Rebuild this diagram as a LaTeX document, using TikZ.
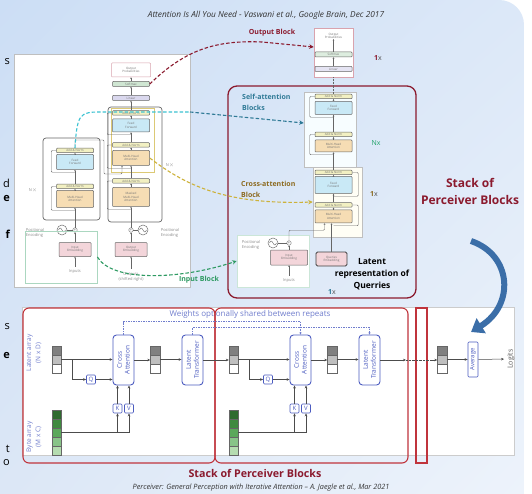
\documentclass[tikz,border=0pt]{standalone}
\usepackage{fontspec}
\setmainfont{Open Sans}
\usepackage{xcolor}
\usetikzlibrary{arrows.meta,shadings}

\definecolor{bgA}{HTML}{CCDEF5}
\definecolor{bgB}{HTML}{DCE8F8}
\definecolor{bgC}{HTML}{DCE7F6}
\definecolor{bgD}{HTML}{EDF3FB}
\definecolor{dred}{HTML}{8B1A2E}
\definecolor{pred}{HTML}{C0343C}
\definecolor{pblue}{HTML}{4C5CC0}
\definecolor{tealc}{HTML}{2F7A96}
\definecolor{cyanc}{HTML}{3CC3D2}
\definecolor{olivec}{HTML}{8C6A20}
\definecolor{yelc}{HTML}{CDB23A}
\definecolor{grn}{HTML}{2E9A62}
\definecolor{arrblue}{HTML}{3B6EA8}
\definecolor{obrd}{HTML}{D9A3AE}
\definecolor{anfill}{HTML}{F2F0C2}
\definecolor{fffill}{HTML}{C9E9F6}
\definecolor{mhfill}{HTML}{F6DDB4}
\definecolor{embfill}{HTML}{F3D5DA}
\definecolor{smfill}{HTML}{CFE6D2}
\definecolor{lnfill}{HTML}{DAD8EE}
\definecolor{byA}{HTML}{2F6B2F}
\definecolor{byB}{HTML}{3F8A3F}
\definecolor{byC}{HTML}{5AA85A}
\definecolor{byD}{HTML}{88C488}
\definecolor{byE}{HTML}{B5DCB0}

% latent array (3 cells) and byte array (5 cells)
\newcommand{\latarr}[2]{%
  \node[cellbox,minimum height=27pt] (#1) at (#2,359.5) {};
  \foreach \col [count=\n] in {black!50,black!25,white}
    \filldraw[fill=\col,draw=black!60,line width=0.4pt]
      ([yshift={-9*(\n-1)}]#1.north west) rectangle ([yshift={-9*\n}]#1.north east);}
\newcommand{\bytearr}[2]{%
  \node[cellbox,minimum height=45pt] (#1) at (#2,432.5) {};
  \foreach \col [count=\n] in {byA,byB,byC,byD,byE}
    \filldraw[fill=\col,draw=black!60,line width=0.4pt]
      ([yshift={-9*(\n-1)}]#1.north west) rectangle ([yshift={-9*\n}]#1.north east);}
\newcommand{\posenc}[3]{%
  \node[draw=black!55,circle,minimum size=10pt,inner sep=0pt,line width=0.5pt] (#1) at (#2,#3) {};
  \draw[black!60,line width=0.4pt] ([xshift=-3.5pt]#1.center) sin ([xshift=-1.75pt,yshift=2pt]#1.center)
    cos (#1.center) sin ([xshift=1.75pt,yshift=-2pt]#1.center) cos ([xshift=3.5pt]#1.center);}
\newcommand{\resid}[2]{\draw[wire] ([yshift=-2.5pt]#1.south) -| ([xshift=-5pt]#2.west) -- (#2.west);}
\newcommand{\residr}[2]{\draw[wire] ([yshift=-2.5pt]#1.south) -| ([xshift=6pt]#2.east) -- (#2.east);}

\begin{document}
\begin{tikzpicture}[x=1pt,y=-1pt,
  tb/.style={draw=black!60,rounded corners=0.8pt,inner sep=0pt,line width=0.5pt,
    font=\fontsize{3}{3.4}\selectfont,text=black!55,align=center,minimum width=37pt},
  an/.style={tb,fill=anfill,minimum height=4.5pt},
  ffw/.style={tb,fill=fffill,minimum height=13pt},
  mh/.style={tb,fill=mhfill,minimum height=15pt},
  emb/.style={tb,fill=embfill,minimum height=14pt,minimum width=32pt},
  panel/.style={draw=#1,fill=white,line width=0.6pt,inner sep=0pt},
  addc/.style={draw=black!55,circle,inner sep=0pt,minimum size=4.5pt,font=\fontsize{4}{4}\selectfont,text=black!60},
  tinytxt/.style={font=\fontsize{4}{4.6}\selectfont,text=black!45,align=center},
  wire/.style={draw=black!60,line width=0.45pt,rounded corners=1pt},
  warr/.style={wire,-{Stealth[length=1.6pt,width=1.6pt]}},
  lab/.style={font=\fontsize{7}{11}\selectfont\bfseries,align=left,inner sep=0pt},
  dcurve/.style={line width=1.1pt,dash pattern=on 3.5pt off 2pt,-{Stealth[length=4.5pt,width=4.5pt]}},
  redbox/.style={draw=pred,line width=1.1pt,minimum height=155pt,inner sep=0pt},
  pbox/.style={draw=pblue,line width=0.9pt,rounded corners=3.5pt,minimum width=21pt,minimum height=50pt,
    inner sep=0pt,font=\fontsize{6.5}{7.5}\selectfont,text=pblue},
  kq/.style={draw=pblue,line width=0.6pt,rounded corners=1pt,minimum size=9pt,inner sep=0pt,
    font=\fontsize{6}{6}\selectfont,text=pblue},
  cellbox/.style={minimum width=9pt,inner sep=0pt},
  arr/.style={-{Stealth[length=3pt,width=2.6pt]},draw=black!70,line width=0.5pt},
  wdash/.style={draw=pblue!80,line width=0.5pt,dash pattern=on 1.5pt off 1pt,-{Stealth[length=2.2pt,width=2.2pt]}}]

\useasboundingbox (0,0) rectangle (532,494);
\fill[white] (0,0) rectangle (532,494);
\shade[upper left=bgA,upper right=bgB,lower left=bgC,lower right=bgD]
  (0,0) -- (499,0) .. controls (513,0) and (524,11) .. (524,25) -- (524,494) -- (0,494) -- cycle;

\node[font=\fontsize{8.3}{9}\selectfont\itshape,text=black!80] (ttl) at (266,15)
  {Attention Is All You Need - Vaswani et al., Google Brain, Dec 2017};

% cut-off letters on the left edge
\foreach \ch/\yy/\w [count=\i] in {s/62/\mdseries,d/183/\mdseries,e/198/\bfseries,f/234/\bfseries,
    s/327/\mdseries,e/355/\bfseries,t/449/\mdseries,o/463/\mdseries}
  \node[anchor=east,inner sep=0pt,font=\fontsize{11}{12}\selectfont\w] (frag\i) at (10,\yy) {\ch};

% ---- transformer figure
\node[panel=black!25,minimum width=176pt,minimum height=233pt] (tfig) at (102,170.5) {};
\node[tb,draw=obrd,minimum width=39pt,minimum height=14pt] (outp) at (131,70) {Output\\Probabilities};
\node[tb,fill=smfill,minimum height=5pt] (smax) at (131,84) {Softmax};
\node[tb,fill=lnfill,minimum height=5pt] (lin) at (131,98) {Linear};
\node[draw=black!60,line width=0.7pt,rounded corners=3pt,minimum width=54pt,minimum height=115pt] (dec) at (135,164.5) {};
\node[draw=yelc!70,line width=0.5pt,minimum width=43pt,minimum height=64pt] (xhl) at (132.5,140) {};
\node[an] (dan1) at (131,113) {Add \& Norm};
\node[ffw] (dff) at (131,125.5) {Feed\\Forward};
\node[an] (dan2) at (131,145) {Add \& Norm};
\node[mh] (dmha) at (131,158) {Multi-Head\\Attention};
\node[an] (dan3) at (131,181) {Add \& Norm};
\node[mh,minimum height=19pt] (dmmha) at (131,197) {Masked\\Multi-Head\\Attention};
\posenc{dpos}{143}{230}
\node[addc] (dplus) at (131,230) {+};
\node[emb] (demb) at (131,249.5) {Output\\Embedding};
\node[tinytxt] (dinp) at (131,277) {Outputs\\(shifted right)};
\node[tinytxt,align=left] (dposl) at (170,233) {Positional\\Encoding};
\node[tinytxt] (dnx) at (170,165) {N$\times$};

\node[draw=black!60,line width=0.7pt,rounded corners=3pt,minimum width=57pt,minimum height=82pt] (enc) at (71.5,179) {};
\node[an] (ean1) at (75,150.5) {Add \& Norm};
\node[ffw,minimum height=15pt] (eff) at (75,162) {Feed\\Forward};
\node[an] (ean2) at (75,186.5) {Add \& Norm};
\node[mh,minimum height=17pt] (emha) at (75,199) {Multi-Head\\Attention};
\posenc{epos}{62}{230}
\node[addc] (eplus) at (75,230) {+};
\node[emb] (eemb) at (75,249.5) {Input\\Embedding};
\node[tinytxt] (einp) at (75,272) {Inputs};
\node[tinytxt,align=left] (eposl) at (35,233) {Positional\\Encoding};
\node[tinytxt] (enx) at (33,190) {N$\times$};
\node[draw=grn!40,line width=0.8pt,minimum width=72pt,minimum height=52pt] (inblk) at (61,257) {};

\foreach \a/\b in {eemb/eplus,eplus/emha,emha/ean2,ean2/eff,eff/ean1,demb/dplus,dplus/dmmha,
    dmmha/dan3,dan3/dmha,dmha/dan2,dan2/dff,dff/dan1,dan1/lin,lin/smax,smax/outp,einp/eemb,dinp/demb}
  \draw[warr] (\a) -- (\b);
\draw[wire] (epos) -- (eplus);
\draw[wire] (dpos) -- (dplus);
\resid{emha}{ean2} \resid{eff}{ean1} \resid{dmmha}{dan3} \resid{dmha}{dan2} \resid{dff}{dan1}
\draw[warr] (ean1.north) -- ++(0,-8) -| (104,174) -| ([xshift=-9pt]dmha.south);

% ---- stack of perceiver blocks
\node[draw=dred,line width=1.3pt,rounded corners=9pt,minimum width=188pt,minimum height=212pt] (stack) at (322,192) {};

\node[panel=obrd,minimum width=39pt,minimum height=49pt] (obox) at (333.5,52.5) {};
\node[tb,draw=none] (oprob) at (333.5,36) {Output\\Probabilities};
\node[tb,fill=smfill!70,minimum height=5pt] (osmax) at (333.5,54.5) {Softmax};
\node[tb,fill=lnfill!70,minimum height=5pt] (olin) at (333.5,69) {Linear};
\draw[warr] (olin) -- (osmax);
\draw[warr] (osmax) -- (oprob);

\node[panel=black!25,fill=cyan!3,minimum width=52pt,minimum height=75pt] (satw) at (330,129.5) {};
\node[an] (san1) at (333.5,96.5) {Add \& Norm};
\node[ffw] (sff) at (333.5,108) {Feed\\Forward};
\node[an] (san2) at (333.5,134.5) {Add \& Norm};
\node[mh,minimum height=12pt] (smha) at (333.5,146) {Multi-Head\\Attention};
\node[panel=black!25,fill=yellow!4,minimum width=49pt,minimum height=70pt] (catw) at (337.5,202) {};
\node[an] (can1) at (333.5,172.5) {Add \& Norm};
\node[ffw,minimum height=17pt] (cff) at (333.5,185) {Feed\\Forward};
\node[an] (can2) at (333.5,205) {Add \& Norm};
\node[mh,minimum height=13pt] (cmha) at (333.5,216.5) {Multi-Head\\Attention};
\foreach \a/\b in {smha/san2,san2/sff,sff/san1,cmha/can2,can2/cff,cff/can1,can1/smha}
  \draw[warr] (\a) -- (\b);
\resid{smha}{san2} \resid{sff}{san1} \residr{cmha}{can2} \residr{cff}{can1}
\draw[wire,densely dotted] (obox.south) -- (san1.north);

\node[panel=grn!25,minimum width=72pt,minimum height=52pt] (ibox) at (273,261) {};
\node[tinytxt,align=left] (iposl) at (251,245) {Positional\\Encoding};
\posenc{ipos}{273}{243}
\node[addc] (iplus) at (289,243) {+};
\node[emb,minimum width=37pt,minimum height=15pt] (iemb) at (289,257.5) {Input\\Embedding};
\node[tinytxt] (iinp) at (289,281) {Inputs};
\draw[warr] (iinp) -- (iemb);
\draw[warr] (iemb) -- (iplus);
\draw[wire] (ipos) -- (iplus);
\draw[warr] (iplus.north) |- ([xshift=-9pt,yshift=-7pt]cmha.south) -- ([xshift=-9pt]cmha.south);
\node[tb,fill=embfill,draw=black!75,line width=0.9pt,minimum width=31pt,minimum height=14pt,rounded corners=1.5pt]
  (qemb) at (331.5,259) {Queries\\Embedding};
\draw[warr] (qemb) -- (qemb |- cmha.south);

% ---- labels
\node[lab,text=dred] (oblab) at (272,33) {Output Block};
\node[font=\fontsize{7}{8}\selectfont,text=black!70] (one1) at (378,58) {{\color{dred}\bfseries 1}x};
\node[lab,text=tealc,anchor=west] (salab) at (242,102.5) {Self-attention\\Blocks};
\node[font=\fontsize{7}{8}\selectfont,text=tealc!70!green] (nx) at (376,143) {Nx};
\node[lab,text=olivec,anchor=west] (calab) at (241,189.5) {Cross-attention\\Block};
\node[font=\fontsize{7}{8}\selectfont,text=black!70] (one2) at (374,194) {{\color{olivec}\bfseries 1}x};
\node[font=\fontsize{7}{8}\selectfont,text=black!70] (one3) at (332,292) {{\color{tealc}\bfseries 1}x};
\node[font=\fontsize{8.5}{12}\selectfont\bfseries,align=center] (qlab) at (372,274) {Latent\\representation of\\Querries};
\node[lab,text=grn] (iblab) at (199,280) {Input Block};
\node[font=\fontsize{12}{17}\selectfont\bfseries,text=dred,align=center] (stlab) at (470,191) {Stack of\\Perceiver Blocks};

% ---- dashed links
\draw[dcurve,dred] (smax.east) .. controls (185,50) and (215,40) .. (262,42) -- ([yshift=5.5pt]obox.west);
\coordinate (cyx) at (190,112);
\draw[cyanc,line width=1.1pt,dash pattern=on 3.5pt off 2pt] (ean1.north) .. controls (77,114) and (80,112) .. (100,112) -- (cyx);
\draw[dcurve,tealc] (cyx) -- ([yshift=6.5pt]satw.west);
\draw[dcurve,yelc] (dmha.east) .. controls (185,185) and (225,205) .. (catw.west);
\draw[dcurve,grn] (inblk.east) .. controls (112,282) and (180,280) .. (ibox.west);

% ---- perceiver figure
\node[panel=black!20,minimum width=492pt,minimum height=148pt] (pfig) at (268,381) {};
\node[font=\fontsize{8}{9}\selectfont,text=pblue!80] (wlab) at (250,314) {Weights optionally shared between repeats};
\node[redbox,rounded corners=6pt,minimum width=192pt] (pb1) at (119,385.5) {};
\node[redbox,rounded corners=6pt,minimum width=193pt] (pb2) at (311.5,385.5) {};
\node[redbox,minimum width=11pt] (pbn) at (421.5,385.5) {};
\node[font=\fontsize{6.5}{7.5}\selectfont,text=pblue!80] (latl) at (34,353) {\rotatebox{90}{\shortstack{Latent array\\(N x D)}}};
\node[font=\fontsize{6.5}{7.5}\selectfont,text=pblue!80] (bytl) at (34,437) {\rotatebox{90}{\shortstack{Byte array\\(M x C)}}};

\foreach \i/\xo in {1/0,2/177}{
  \bytearr{by\i}{56.5+\xo}
  \latarr{li\i}{56.5+\xo}
  \latarr{lm\i}{155+\xo}
  \node[kq] (q\i) at (91+\xo,379.5) {Q};
  \node[pbox] (ca\i) at (123.5+\xo,360) {\rotatebox{90}{\shortstack{Cross\\Attention}}};
  \node[kq] (k\i) at (117.5+\xo,408.5) {K};
  \node[kq] (v\i) at (129+\xo,408.5) {V};
  \node[pbox] (lt\i) at (192.5+\xo,360) {\rotatebox{90}{\shortstack{Latent\\Transformer}}};
  \draw[arr] (li\i.east) -- (li\i.east -| ca\i.west);
  \draw[arr] ([xshift=11pt]li\i.east) |- (q\i.west);
  \draw[arr] (q\i.east) -- (q\i.east -| ca\i.west);
  \draw[arr] (k\i) -- (k\i |- ca\i.south);
  \draw[arr] (v\i) -- (v\i |- ca\i.south);
  \draw[arr] (by\i.east) -| (v\i.south);
  \draw[arr] (by\i.east -| k\i) -- (k\i.south);
  \draw[arr] (ca\i.east) -- (ca\i.east -| lm\i.west);
  \draw[arr] (lm\i.east) -- (lm\i.east -| lt\i.west);
}
\draw[arr] (lt1.east) -- (lt1.east -| li2.west);
\draw[wdash] (ca1.north) -- ++(0,-13) -| (ca2.north);
\draw[wdash] (lt1.north) -- ++(0,-7) -| (lt2.north);
\latarr{lo}{442}
\coordinate (dt1) at (406,360);
\coordinate (dt2) at (430,360);
\node[kq,minimum width=10pt,minimum height=35pt] (avg) at (473,359.5) {\rotatebox{90}{Average}};
\node[font=\fontsize{7}{7}\selectfont,text=black!65] (logit) at (511,359) {\rotatebox{90}{Logits}};
\draw[arr] (lt2.east) -- (dt1);
\draw[densely dotted,black!70] (dt1) -- (dt2);
\draw[arr] (dt2) -- (dt2 -| lo.west);
\draw[arr] (lo.east) -- (lo.east -| avg.west);
\draw[arr] (avg) -- (logit);

\draw[arrblue,line width=6pt,-{Triangle[length=12pt,width=17pt]}] (471,241) .. controls (512,255) and (515,305) .. (471,332);

\node[font=\fontsize{10.7}{12}\selectfont\bfseries,text=dred] (stlab2) at (255,473) {Stack of Perceiver Blocks};
\node[font=\fontsize{7.3}{8}\selectfont\itshape,text=black!80] (cap) at (261,488)
  {Perceiver: General Perception with Iterative Attention -- A. Jaegle et al., Mar 2021};
\end{tikzpicture}
\end{document}
